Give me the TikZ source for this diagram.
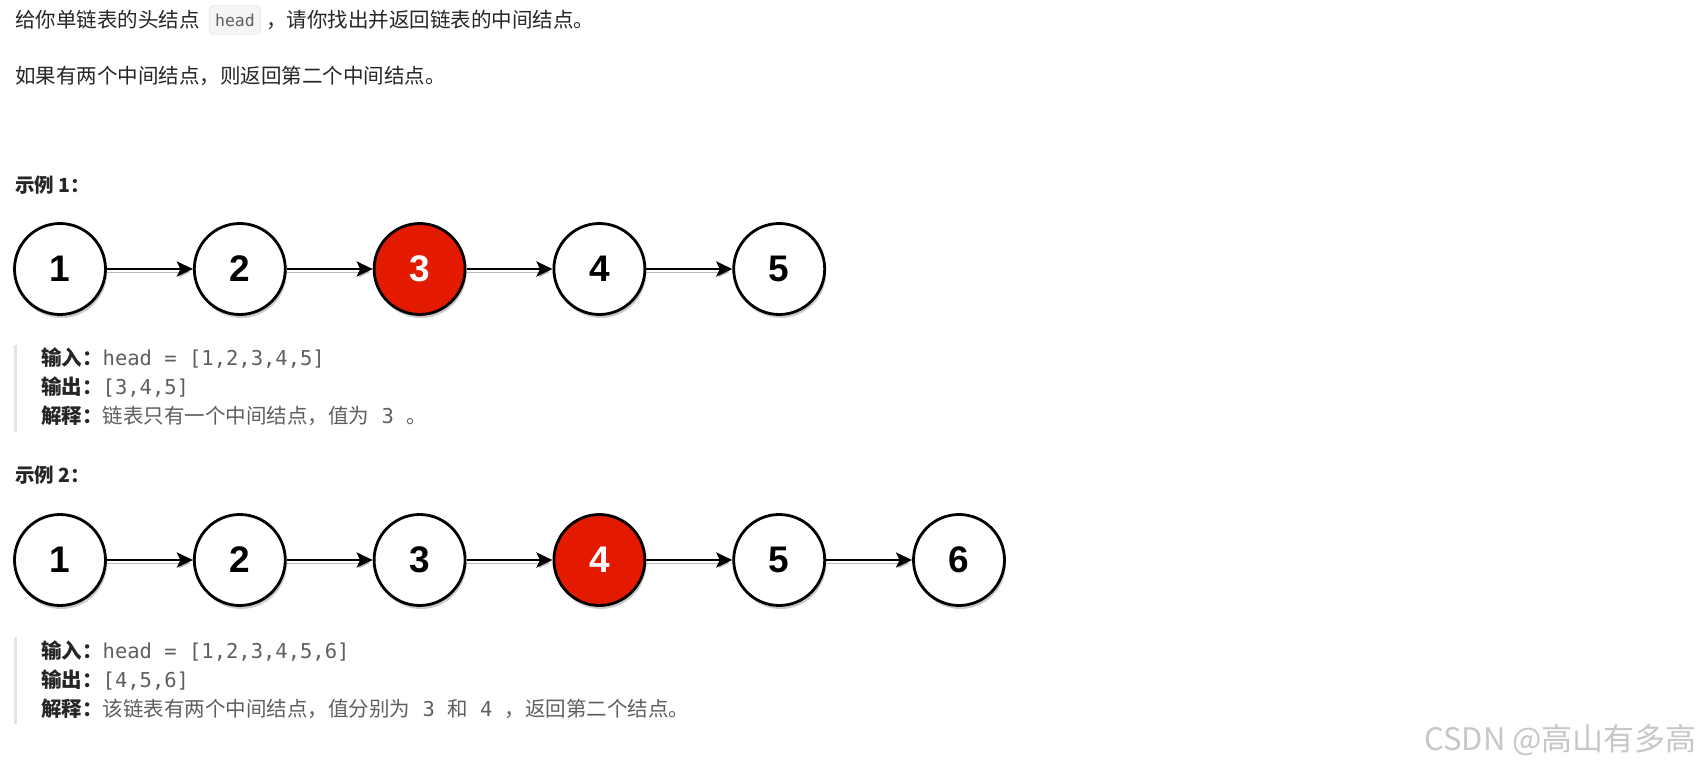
\documentclass[tikz,border=0pt]{standalone}
\usepackage{fontspec}
\setmainfont{Noto Sans CJK SC}
\newfontfamily\codefont{DejaVu Sans Mono}
\newfontfamily\digitfont{Liberation Sans}
\usetikzlibrary{arrows.meta, positioning, shadows}
\definecolor{txtdark}{RGB}{38,38,38}
\definecolor{txtgray}{RGB}{95,95,95}
\definecolor{midred}{RGB}{227,26,0}
\definecolor{quotebar}{RGB}{228,228,228}
\newcommand{\code}[1]{{\codefont #1}}

\begin{document}
\begin{tikzpicture}[x=1pt, y=-1pt,
    listnode/.style={circle, draw=black, line width=2.8pt, fill=white, minimum size=91pt, inner sep=0pt,
      font=\digitfont\bfseries\fontsize{37}{37}\selectfont,
      drop shadow={shadow xshift=1.5pt, shadow yshift=-3.5pt, fill=black!45, opacity=.45}},
    midnode/.style={listnode, fill=midred, text=white},
    link/.style={line width=2.8pt, -{Stealth[length=16pt, width=15pt, inset=3.5pt]},
      preaction={draw=black!28, transform canvas={yshift=-3pt}}},
    plain/.style={anchor=west, inner sep=0pt, text=txtdark, font=\fontsize{20.5}{24}\selectfont},
    heading/.style={plain, font=\bfseries\fontsize{19.5}{24}\selectfont},
    codebox/.style={draw=black!12, fill=black!4, rounded corners=4pt, inner xsep=6pt, minimum height=29pt,
      text=txtgray, font=\codefont\fontsize{16.5}{20}\selectfont},
    quotebar/.style={draw=quotebar, line width=3pt},
]
  \fill[white] (0,0) rectangle (1703,767);
  \useasboundingbox (0,0) rectangle (1703,767);

  % problem statement
  \node[plain] (intro1) at (15,20) {给你单链表的头结点};
  \node[codebox, right=9pt of intro1] (headcode) {head};
  \node[plain, right=5pt of headcode] (intro2) {，请你找出并返回链表的中间结点。};
  \node[plain] (intro3) at (15,76) {如果有两个中间结点，则返回第二个中间结点。};

  % example 1
  \node[heading] (ex1) at (15,185) {示例 1：};
  \node[listnode] (a1) at (60,269) {1};
  \node[listnode, right=86pt of a1] (a2) {2};
  \node[midnode, right=86pt of a2] (a3) {3};
  \node[listnode, right=86pt of a3] (a4) {4};
  \node[listnode, right=86pt of a4] (a5) {5};
  \draw[link] (a1) -- (a2);
  \draw[link] (a2) -- (a3);
  \draw[link] (a3) -- (a4);
  \draw[link] (a4) -- (a5);

  \draw[quotebar] (15,345) -- (15,432);
  \node[plain] (in1) at (41,358) {{\bfseries 输入：}{\color{txtgray}\code{head = [1,2,3,4,5]}}};
  \node[plain] (out1) at (41,387) {{\bfseries 输出：}{\color{txtgray}\code{[3,4,5]}}};
  \node[plain] (why1) at (41,416) {{\bfseries 解释：}{\color{txtgray}链表只有一个中间结点，值为\code{~3~}。}};

  % example 2
  \node[heading] (ex2) at (15,475) {示例 2：};
  \node[listnode] (b1) at (60,560) {1};
  \node[listnode, right=86pt of b1] (b2) {2};
  \node[listnode, right=86pt of b2] (b3) {3};
  \node[midnode, right=86pt of b3] (b4) {4};
  \node[listnode, right=86pt of b4] (b5) {5};
  \node[listnode, right=86pt of b5] (b6) {6};
  \draw[link] (b1) -- (b2);
  \draw[link] (b2) -- (b3);
  \draw[link] (b3) -- (b4);
  \draw[link] (b4) -- (b5);
  \draw[link] (b5) -- (b6);

  \draw[quotebar] (15,637) -- (15,724);
  \node[plain] (in2) at (41,651) {{\bfseries 输入：}{\color{txtgray}\code{head = [1,2,3,4,5,6]}}};
  \node[plain] (out2) at (41,680) {{\bfseries 输出：}{\color{txtgray}\code{[4,5,6]}}};
  \node[plain] (why2) at (41,709) {{\bfseries 解释：}{\color{txtgray}该链表有两个中间结点，值分别为\code{~3~}和\code{~4~}，返回第二个结点。}};

  \node[anchor=east, inner sep=0pt, text=black!22, font=\fontsize{31}{31}\selectfont] (mark) at (1697,740) {CSDN @高山有多高};
\end{tikzpicture}
\end{document}
